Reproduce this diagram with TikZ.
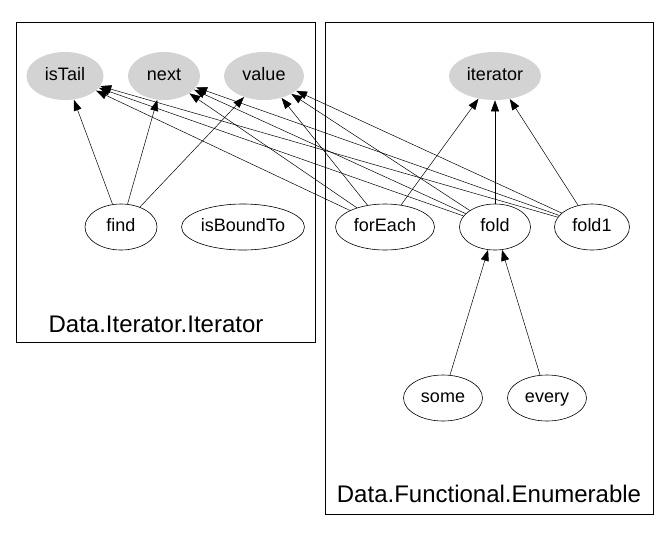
\documentclass[tikz,border=0pt]{standalone}
\usepackage{fontspec}
\setmainfont{Liberation Sans}
\usepackage{xcolor}
\usetikzlibrary{arrows.meta}
\usetikzlibrary{shapes.geometric}
\definecolor{lgrey}{RGB}{211,211,211}

\begin{document}
\begin{tikzpicture}[x=1pt,y=-1pt,-,>={Triangle[length=11pt,width=8pt]},line width=0.6pt]
 				 \tikzstyle{every node}=[font=\fontsize{18}{21}\selectfont]
 				 \tikzstyle{fn}=[ellipse, draw=black, fill=white, inner sep=0pt, minimum height=46pt, text height=13pt, text depth=4pt]
 				 \tikzstyle{prim}=[ellipse, fill=lgrey, inner sep=0pt, minimum height=48pt, text height=13pt, text depth=4pt]
 				 \tikzstyle{dep}=[->, line width=0.5pt]
 				 \tikzstyle{cluster}=[draw=black, line width=0.8pt]
 				 \useasboundingbox (0,0) rectangle (669,547);
 				 % clusters
 				 \draw[cluster] (16,22) rectangle (315,342);
 				 \draw[cluster] (325,22) rectangle (653,514);
 				 \node[font=\fontsize{24}{29}\selectfont] (iterlbl) at (156,324) {Data.Iterator.Iterator};
 				 \node[font=\fontsize{24}{29}\selectfont] (enumlbl) at (489,494) {Data.Functional.Enumerable};
 				 % primitives
 					 \node[prim, minimum width=77pt] 	(isTail)   at (65,76)   {isTail};
 					 \node[prim, minimum width=72pt] 	(next)     at (164,76)  {next};
 					 \node[prim, minimum width=80pt] 	(value)    at (264,76)  {value};
 					 \node[prim, minimum width=92pt] 	(iterator) at (495,76)  {iterator};
 				 % functions
 					 \node[fn, minimum width=72pt]  	(find)      at (121,227) {find};
 					 \node[fn, minimum width=123pt] 	(isBoundTo) at (243,227) {isBoundTo};
 					 \node[fn, minimum width=99pt]  	(forEach)   at (385,227) {forEach};
 					 \node[fn, minimum width=71pt]  	(fold)      at (495,227) {fold};
 					 \node[fn, minimum width=75pt]  	(fold1)     at (592,227) {fold1};
 					 \node[fn, minimum width=79pt]  	(some)      at (443,398) {some};
 					 \node[fn, minimum width=79pt]  	(every)     at (547,398) {every};
				\path
				(find) edge[dep] (isTail)
				(find) edge[dep] (next)
				(find) edge[dep] (value)
				(forEach) edge[dep] (isTail)
				(forEach) edge[dep] (next)
				(forEach) edge[dep] (value)
				(forEach) edge[dep] (iterator)
				(fold) edge[dep] (isTail)
				(fold) edge[dep] (next)
				(fold) edge[dep] (value)
				(fold) edge[dep] (iterator)
				(fold1) edge[dep] (isTail)
				(fold1) edge[dep] (next)
				(fold1) edge[dep] (value)
				(fold1) edge[dep] (iterator)
				(some) edge[dep] (fold)
				(every) edge[dep] (fold);
\end{tikzpicture}
\end{document}
